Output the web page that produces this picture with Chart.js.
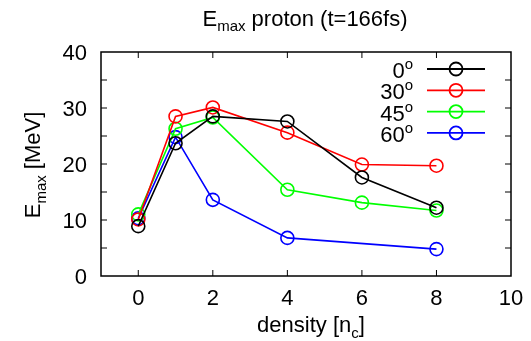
<!DOCTYPE html>
<html>
<head>
<meta charset="utf-8">
<script src="https://cdn.jsdelivr.net/npm/chart.js@4"></script>
<style>
  body { margin: 0; background: #fff; }
  #wrap { width: 531px; height: 341px; }
</style>
</head>
<body>
<div id="wrap"><canvas id="emaxChart" width="531" height="341"></canvas></div>
<script>
const density = [0, 1, 2, 4, 6, 8];
const density60 = [0, 1, 2, 4, 8];
const angle0 = [8.9, 23.7, 28.5, 27.6, 17.6, 12.2];
const angle30 = [10.1, 28.5, 30.1, 25.6, 19.9, 19.7];
const angle45 = [11.0, 26.3, 28.3, 15.4, 13.1, 11.7];
const angle60 = [10.3, 24.8, 13.6, 6.8, 4.8];
const angleLabels = ["0", "30", "45", "60"];
const colors = ["#000000", "#ff0000", "#00ff00", "#0000ff"];
const xTicks = [0, 2, 4, 6, 8, 10];
const yTicks = [0, 10, 20, 30, 40];

const FONT = "Liberation Sans, Arial, sans-serif";
const BIG = "22px " + FONT;
const SMALL = "15px " + FONT;

function toPoints(xs, ys) {
  return xs.map((x, i) => ({ x: x, y: ys[i] }));
}

const series = [
  toPoints(density, angle0),
  toPoints(density, angle30),
  toPoints(density, angle45),
  toPoints(density60, angle60)
];

// text with a subscript part: [main, sub, rest], centred on cx
function subText(ctx, parts, cx, by, drop) {
  ctx.font = BIG; const w1 = ctx.measureText(parts[0]).width;
  ctx.font = SMALL; const w2 = ctx.measureText(parts[1]).width;
  ctx.font = BIG; const w3 = ctx.measureText(parts[2]).width;
  const sx = cx - (w1 + w2 + w3) / 2;
  ctx.textAlign = "left";
  ctx.textBaseline = "alphabetic";
  ctx.font = BIG; ctx.fillText(parts[0], sx, by);
  ctx.font = SMALL; ctx.fillText(parts[1], sx + w1, by + drop);
  ctx.font = BIG; ctx.fillText(parts[2], sx + w1 + w2, by);
}

// gnuplot-like frame, ticks, labels and key
const gnuplotLook = {
  id: "gnuplotLook",
  afterDraw(chart) {
    const ctx = chart.ctx;
    const a = chart.chartArea;
    const xs = chart.scales.x, ys = chart.scales.y;
    ctx.save();
    ctx.strokeStyle = "#000";
    ctx.lineWidth = 1.5;
    ctx.strokeRect(a.left, a.top, a.right - a.left, a.bottom - a.top);

    ctx.lineWidth = 1;
    const tl = 6;
    ctx.beginPath();
    for (let v = 0; v <= 8; v += 2) {
      const px = xs.getPixelForValue(v);
      ctx.moveTo(px, a.bottom); ctx.lineTo(px, a.bottom - tl);
      ctx.moveTo(px, a.top); ctx.lineTo(px, a.top + tl);
    }
    for (let v = 5; v < 40; v += 5) {
      const py = ys.getPixelForValue(v);
      ctx.moveTo(a.left, py); ctx.lineTo(a.left + tl, py);
      ctx.moveTo(a.right, py); ctx.lineTo(a.right - tl, py);
    }
    ctx.stroke();

    ctx.fillStyle = "#000";
    ctx.font = BIG;
    ctx.textAlign = "center";
    ctx.textBaseline = "alphabetic";
    xTicks.forEach(v => ctx.fillText(String(v), xs.getPixelForValue(v), 305));
    ctx.textAlign = "right";
    yTicks.forEach(v => ctx.fillText(String(v), a.left - 14, ys.getPixelForValue(v) + 8));

    subText(ctx, ["density [n", "c", "]"], 311, 332, 6);
    subText(ctx, ["E", "max", " proton (t=166fs)"], 305, 26, 5);

    ctx.save();
    ctx.translate(40, 165);
    ctx.rotate(-Math.PI / 2);
    subText(ctx, ["E", "max", " [MeV]"], 0, 0, 6);
    ctx.restore();

    // key
    angleLabels.forEach((lab, i) => {
      const ry = 69 + i * 21.3;
      ctx.fillStyle = "#000";
      ctx.textAlign = "right";
      ctx.textBaseline = "alphabetic";
      ctx.font = SMALL;
      ctx.fillText("o", 413, ry);
      const ow = ctx.measureText("o").width;
      ctx.font = BIG;
      ctx.fillText(lab, 413 - ow, ry + 9);
      ctx.strokeStyle = colors[i];
      ctx.lineWidth = 1.8;
      ctx.beginPath();
      ctx.moveTo(427, ry); ctx.lineTo(485, ry);
      ctx.stroke();
      ctx.beginPath();
      ctx.arc(456, ry, 6.5, 0, Math.PI * 2);
      ctx.stroke();
    });
    ctx.restore();
  }
};

const ctx = document.getElementById("emaxChart").getContext("2d");
new Chart(ctx, {
  type: "line",
  data: {
    datasets: series.map((pts, i) => ({
      label: angleLabels[i],
      data: pts,
      borderColor: colors[i],
      backgroundColor: "rgba(0,0,0,0)",
      pointBorderColor: colors[i],
      pointBackgroundColor: "rgba(0,0,0,0)",
      pointRadius: 6.5,
      pointBorderWidth: 1.6,
      borderWidth: 1.6,
      tension: 0,
      fill: false
    }))
  },
  options: {
    responsive: false,
    animation: false,
    layout: { padding: { left: 101, right: 20, top: 52, bottom: 65 } },
    plugins: { legend: { display: false }, tooltip: { enabled: false } },
    scales: {
      x: { type: "linear", min: -1, max: 10, display: false },
      y: { type: "linear", min: 0, max: 40, display: false }
    }
  },
  plugins: [gnuplotLook]
});
</script>
</body>
</html>
